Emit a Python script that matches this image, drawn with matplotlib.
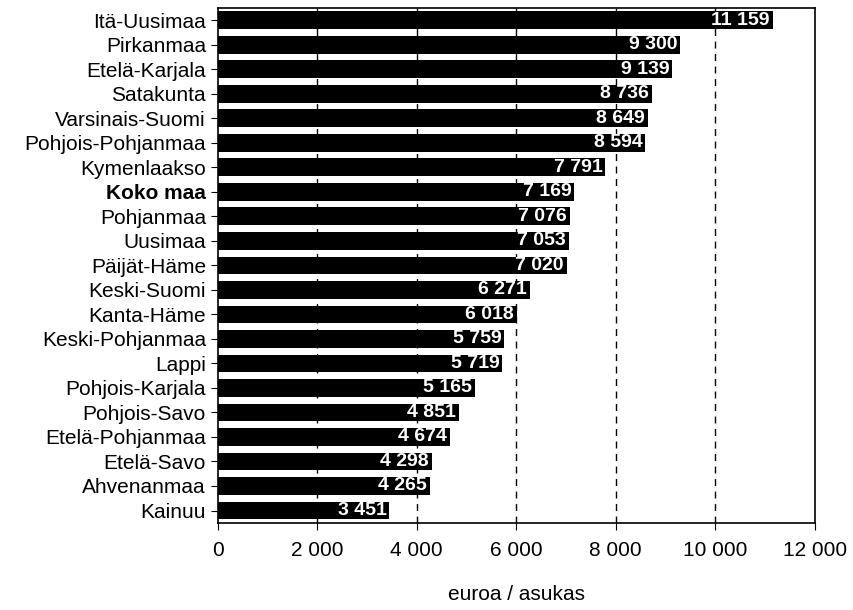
import matplotlib
matplotlib.use('Agg')
import matplotlib.pyplot as plt
from matplotlib.ticker import FuncFormatter

plt.rcParams['font.family'] = ['Liberation Sans', 'DejaVu Sans']

regions = ['Itä-Uusimaa', 'Pirkanmaa', 'Etelä-Karjala', 'Satakunta', 'Varsinais-Suomi',
           'Pohjois-Pohjanmaa', 'Kymenlaakso', 'Koko maa', 'Pohjanmaa', 'Uusimaa',
           'Päijät-Häme', 'Keski-Suomi', 'Kanta-Häme', 'Keski-Pohjanmaa', 'Lappi',
           'Pohjois-Karjala', 'Pohjois-Savo', 'Etelä-Pohjanmaa', 'Etelä-Savo',
           'Ahvenanmaa', 'Kainuu']
values = [11159, 9300, 9139, 8736, 8649, 8594, 7791, 7169, 7076, 7053, 7020,
          6271, 6018, 5759, 5719, 5165, 4851, 4674, 4298, 4265, 3451]
xticks = [0, 2000, 4000, 6000, 8000, 10000, 12000]


def fmt(v):
    return '{:,}'.format(int(v)).replace(',', ' ')


fig = plt.figure(figsize=(8.54, 6.10), dpi=100)
ax = fig.add_axes([0.255, 0.143, 0.699, 0.844])

pos = list(range(len(regions)))
ax.barh(pos, values, height=0.72, color='black', zorder=2)
for p, v in zip(pos, values):
    ax.text(v - 60, p, fmt(v), color='white', fontsize=14, fontweight='bold',
            ha='right', va='center', zorder=3)

ax.set_ylim(len(regions) - 0.5, -0.5)
ax.set_yticks(pos)
ax.set_yticklabels(regions)
for lab in ax.get_yticklabels():
    if lab.get_text() == 'Koko maa':
        lab.set_fontweight('bold')

ax.set_xlim(0, 12000)
ax.set_xticks(xticks)
ax.xaxis.set_major_formatter(FuncFormatter(lambda v, p: fmt(v)))
ax.tick_params(axis='both', labelsize=15, length=5, direction='out')
ax.tick_params(axis='x', pad=8)
for x in xticks[1:-1]:
    ax.axvline(x, color='black', linestyle=(0, (5, 4)), linewidth=1, zorder=1)

for s in ax.spines.values():
    s.set_linewidth(1.2)

ax.set_xlabel('euroa / asukas', fontsize=15, labelpad=18)

fig.savefig('out.png', dpi=100)
